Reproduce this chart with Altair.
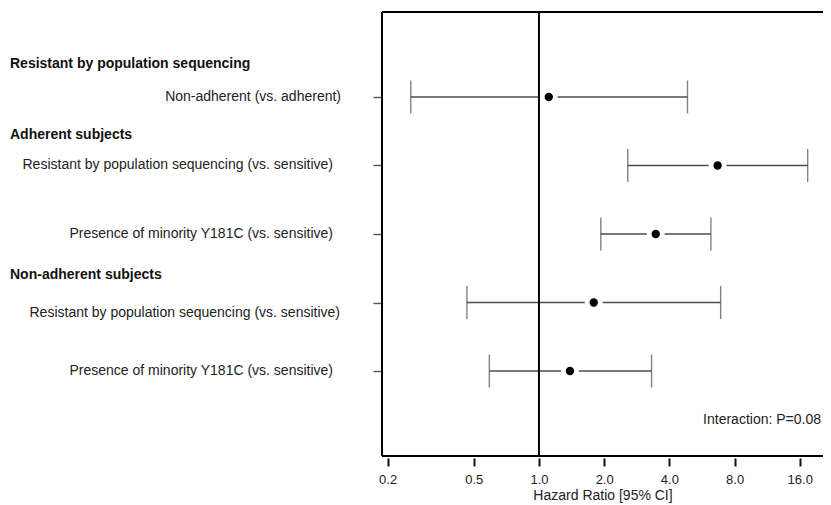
import altair as alt
import pandas as pd

# ---- data ----
row_labels = [
    "Non-adherent (vs. adherent)",
    "Resistant by population sequencing (vs. sensitive)",
    "Presence of minority Y181C (vs. sensitive)",
    "Resistant by population sequencing (vs. sensitive)",
    "Presence of minority Y181C (vs. sensitive)",
]
row_pos = [1, 2, 3, 4, 5]
hr = [1.11, 6.68, 3.46, 1.79, 1.39]
ci_low = [0.256, 2.57, 1.93, 0.465, 0.59]
ci_high = [4.85, 17.4, 6.22, 6.90, 3.31]

group_headers = ["Resistant by population sequencing", "Adherent subjects", "Non-adherent subjects"]
header_pos = [0.52, 1.56, 3.6]

x_ticks = [0.2, 0.5, 1.0, 2.0, 4.0, 8.0, 16.0]
ref_value = [1.0]
note = ["Interaction: P=0.08"]

df = pd.DataFrame({"label": row_labels, "pos": row_pos, "hr": hr, "lo": ci_low, "hi": ci_high})
hdr = pd.DataFrame({"label": group_headers, "pos": header_pos})
ref = pd.DataFrame({"v": ref_value})
notes = pd.DataFrame({"t": note})

FONT = "Liberation Sans"
W, H = 441, 444
TXT = "#222222"

xscale = alt.Scale(type="log", domain=[0.1885, 20.48], nice=False)
xaxis = alt.Axis(values=x_ticks, format=".1f", domain=False, grid=False,
                 tickColor="#111111", tickWidth=2, tickSize=8, offset=2,
                 labelPadding=7, labelFontSize=13, labelFont=FONT, labelColor=TXT,
                 labelFlush=False, title="Hazard Ratio [95% CI]", titleFont=FONT,
                 titleFontSize=14, titleFontWeight="normal", titleColor=TXT, titlePadding=2)
yscale = alt.Scale(domain=[-0.24, 6.24], reverse=True, nice=False, zero=False)
yaxis = alt.Axis(values=row_pos, labels=False, domain=False, grid=False,
                 tickColor="#555555", tickWidth=1.4, tickSize=9, title=None)


def X(field):
    return alt.X(f"{field}:Q", scale=xscale, axis=xaxis)


def Y():
    return alt.Y("pos:Q", scale=yscale, axis=yaxis)


base = alt.Chart(df)

bars = base.mark_rule(color="#4d4d4d", strokeWidth=1.4).encode(x=X("lo"), x2="hi:Q", y=Y())
cap_lo = base.mark_tick(orient="vertical", color="#4d4d4d", thickness=1.4, size=33).encode(x=X("lo"), y=Y())
cap_hi = base.mark_tick(orient="vertical", color="#4d4d4d", thickness=1.4, size=33).encode(x=X("hi"), y=Y())
halo = base.mark_point(filled=True, color="white", opacity=1, size=324).encode(x=X("hr"), y=Y())
refline = alt.Chart(ref).mark_rule(color="black", strokeWidth=2).encode(
    x=X("v"), y=alt.value(0), y2=alt.value(H))
pts = base.mark_point(filled=True, color="black", opacity=1, size=70).encode(x=X("hr"), y=Y())

box_top = alt.Chart(ref).mark_rule(color="black", strokeWidth=2).encode(
    x=alt.value(0), x2=alt.value(W + 20), y=alt.value(0))
box_left = alt.Chart(ref).mark_rule(color="black", strokeWidth=2).encode(
    x=alt.value(0), y=alt.value(0), y2=alt.value(H))
box_bottom = alt.Chart(ref).mark_rule(color="black", strokeWidth=2).encode(
    x=alt.value(0), x2=alt.value(W + 20), y=alt.value(H))

txt_kw = dict(align="right", baseline="middle", font=FONT, fontSize=14, color=TXT)
labels_a = base.transform_filter("datum.pos == 2 || datum.pos == 3 || datum.pos == 5").mark_text(
    **txt_kw).encode(x=alt.value(-49), y=Y(), text="label:N")
labels_1 = base.transform_filter("datum.pos == 1").mark_text(**txt_kw).encode(
    x=alt.value(-41), y=Y(), text="label:N")
labels_4 = base.transform_filter("datum.pos == 4").mark_text(dy=10, **txt_kw).encode(
    x=alt.value(-42), y=Y(), text="label:N")
headers = alt.Chart(hdr).mark_text(align="left", baseline="middle", font=FONT,
                                   fontSize=14, fontWeight="bold", color="#111111").encode(
    x=alt.value(-372), y=Y(), text="label:N")
note_txt = alt.Chart(notes).mark_text(align="right", baseline="middle", font=FONT,
                                      fontSize=14, color=TXT).encode(
    x=alt.value(439), y=alt.value(408), text="t:N")

chart = alt.layer(
    bars, cap_lo, cap_hi, halo, refline, pts,
    box_top, box_left, box_bottom,
    labels_a, labels_1, labels_4, headers, note_txt,
).properties(
    width=W, height=H,
    autosize=alt.AutoSizeParams(type="none"),
    padding={"left": 374, "top": 4, "right": 0, "bottom": 49},
    background="white",
).configure_view(stroke=None)

chart.save("out.html", embed_options={"renderer": "svg", "actions": False})
